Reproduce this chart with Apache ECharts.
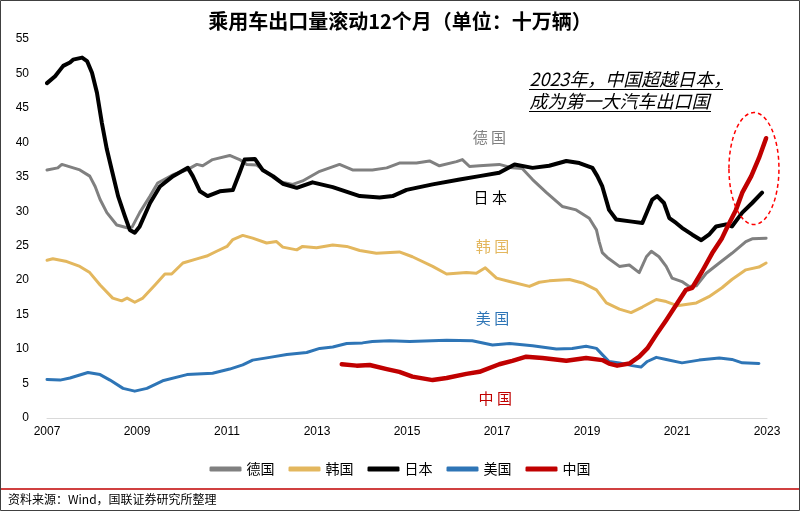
<!DOCTYPE html>
<html><head><meta charset="utf-8">
<script src="https://cdn.jsdelivr.net/npm/echarts@6/dist/echarts.min.js"></script>
<style>html,body{margin:0;padding:0;background:#fff}#c{width:800px;height:511px}</style>
</head><body><div id="c"></div>
<script>
// ---- data (decimal years, 十万辆) ----
const baseYear = 2007;
const yearTicks = [2007, 2009, 2011, 2013, 2015, 2017, 2019, 2021, 2023];

const deX = [2007.00,2007.24,2007.33,2007.73,2007.95,2008.07,2008.18,2008.33,2008.55,2008.78,2008.89,2009.06,2009.29,2009.46,2009.80,2010.11,2010.33,2010.46,2010.68,2011.06,2011.28,2011.44,2011.66,2011.88,2012.17,2012.46,2012.68,2013.06,2013.50,2013.79,2014.23,2014.55,2014.83,2015.21,2015.50,2015.72,2016.10,2016.23,2016.39,2016.61,2017.05,2017.34,2017.56,2017.79,2018.10,2018.45,2018.76,2019.05,2019.21,2019.27,2019.34,2019.45,2019.72,2019.94,2020.16,2020.32,2020.43,2020.60,2020.76,2020.89,2021.11,2021.27,2021.43,2021.65,2021.94,2022.22,2022.53,2022.67,2022.98];
const deY = [36.0,36.3,36.8,36.0,35.1,33.6,31.7,29.8,28.0,27.6,27.7,29.8,32.2,34.1,35.3,36.0,36.8,36.6,37.5,38.1,37.5,36.8,36.7,35.6,34.3,33.9,34.4,35.8,36.8,36.0,36.0,36.3,37.0,37.0,37.3,36.6,37.2,37.5,36.5,36.6,36.8,36.3,36.2,34.6,32.7,30.7,30.2,29.0,27.3,25.6,24.0,23.3,22.0,22.2,21.1,23.4,24.2,23.4,22.0,20.3,19.8,19.1,19.2,21.0,22.5,23.9,25.6,26.0,26.1];

const krX = [2007.00,2007.13,2007.44,2007.73,2007.95,2008.18,2008.46,2008.66,2008.78,2008.95,2009.13,2009.40,2009.62,2009.77,2010.02,2010.33,2010.55,2010.77,2011.00,2011.13,2011.35,2011.57,2011.88,2012.10,2012.24,2012.55,2012.68,2012.99,2013.35,2013.66,2013.95,2014.32,2014.83,2015.12,2015.57,2015.88,2016.32,2016.54,2016.74,2016.99,2017.28,2017.72,2017.94,2018.16,2018.61,2018.90,2019.21,2019.43,2019.72,2019.98,2020.23,2020.54,2020.76,2021.00,2021.43,2021.71,2022.00,2022.22,2022.53,2022.82,2022.98];
const krY = [22.9,23.1,22.7,22.0,21.1,19.3,17.4,17.0,17.4,16.8,17.4,19.3,20.9,20.9,22.5,23.1,23.5,24.2,24.9,25.9,26.5,26.1,25.4,25.6,24.8,24.4,24.9,24.7,25.1,24.9,24.3,23.9,24.1,23.4,22.0,20.9,21.1,21.0,21.8,20.3,19.8,19.1,19.7,19.9,20.1,19.6,18.6,16.7,15.8,15.3,16.1,17.2,16.9,16.3,16.7,17.6,18.9,20.1,21.5,21.9,22.5];

const jpX = [2007.00,2007.18,2007.36,2007.51,2007.58,2007.78,2007.89,2008.00,2008.11,2008.22,2008.33,2008.44,2008.58,2008.73,2008.84,2008.95,2009.06,2009.29,2009.51,2009.80,2010.13,2010.24,2010.40,2010.57,2010.84,2011.13,2011.28,2011.39,2011.62,2011.79,2012.02,2012.24,2012.55,2012.90,2013.35,2013.95,2014.39,2014.68,2014.99,2015.57,2016.17,2016.61,2017.05,2017.39,2017.79,2018.16,2018.54,2018.83,2019.12,2019.23,2019.34,2019.49,2019.65,2020.00,2020.23,2020.45,2020.56,2020.71,2020.83,2020.98,2021.11,2021.34,2021.54,2021.71,2021.87,2022.09,2022.22,2022.45,2022.67,2022.89];
const jpY = [48.6,49.6,51.1,51.6,52.0,52.3,51.8,50.1,47.2,42.8,39.0,36.0,32.2,29.3,27.3,26.9,27.8,31.2,33.6,35.1,36.3,35.1,32.9,32.2,32.9,33.1,35.6,37.5,37.6,36.0,35.1,34.0,33.4,34.2,33.5,32.2,32.0,32.2,33.1,33.9,34.6,35.1,35.6,36.8,36.3,36.6,37.3,37.0,36.3,35.1,33.6,30.2,28.8,28.5,28.3,31.7,32.2,31.2,29.0,28.3,27.6,26.6,25.8,26.6,27.8,28.1,27.8,29.8,31.2,32.7];

const usX = [2007.00,2007.29,2007.51,2007.91,2008.18,2008.40,2008.69,2008.95,2009.22,2009.57,2010.11,2010.68,2011.06,2011.35,2011.57,2011.95,2012.33,2012.77,2013.06,2013.35,2013.66,2014.01,2014.23,2014.61,2015.06,2015.88,2016.45,2016.90,2017.28,2017.79,2018.32,2018.67,2018.98,2019.21,2019.34,2019.49,2019.72,2020.00,2020.20,2020.34,2020.54,2020.76,2021.11,2021.49,2021.94,2022.22,2022.45,2022.82];
const usY = [5.6,5.5,5.8,6.6,6.3,5.5,4.3,3.9,4.3,5.4,6.3,6.5,7.1,7.7,8.4,8.8,9.2,9.5,10.1,10.3,10.8,10.9,11.1,11.2,11.1,11.3,11.2,10.6,10.8,10.5,10.0,10.1,10.4,10.1,9.2,8.2,8.0,7.6,7.4,8.2,8.8,8.5,8.0,8.4,8.7,8.5,8.0,7.9];

const cnX = [2013.55,2013.88,2014.17,2014.55,2014.83,2015.12,2015.57,2015.88,2016.32,2016.61,2017.05,2017.34,2017.65,2018.01,2018.54,2018.98,2019.34,2019.49,2019.67,2019.94,2020.16,2020.34,2020.54,2020.76,2020.98,2021.20,2021.34,2021.56,2021.78,2022.00,2022.11,2022.31,2022.45,2022.65,2022.82,2022.98];
const cnY = [7.8,7.6,7.7,7.1,6.7,6.0,5.5,5.8,6.4,6.7,7.8,8.3,8.9,8.7,8.3,8.7,8.4,7.9,7.6,7.9,8.9,10.1,12.1,14.2,16.4,18.6,18.9,21.3,23.9,26.1,27.6,30.2,32.7,35.1,37.7,40.6];

const seriesNames = ['德国', '韩国', '日本', '美国', '中国'];
const seriesColors = ['#808080', '#E3B75E', '#000000', '#2E75B6', '#C00000'];
const seriesWidths = [3, 3, 4, 3, 4.5];
const seriesXs = [deX, krX, jpX, usX, cnX];
const seriesYs = [deY, krY, jpY, usY, cnY];

const titleText = '乘用车出口量滚动12个月（单位：十万辆）';
const noteLines = ['2023年，中国超越日本，', '成为第一大汽车出口国'];
const sourceText = '资料来源：Wind，国联证券研究所整理';

// ---- chart ----
const chart = echarts.init(document.getElementById('c'), null, {renderer: 'canvas'});
const CJK = '"Noto Sans CJK SC", sans-serif';
const NUM = '"Liberation Sans", Arial, sans-serif';

const series = seriesNames.map((n, i) => ({
  name: n,
  type: 'line',
  showSymbol: false,
  symbol: 'none',
  smooth: false,
  z: 2 + i,
  color: seriesColors[i],
  lineStyle: {width: seriesWidths[i], color: seriesColors[i], cap: 'round', join: 'round'},
  data: seriesXs[i].map((x, k) => [x - baseYear, seriesYs[i][k]])
}));

chart.setOption({
  animation: false,
  backgroundColor: '#fff',
  title: {
    text: titleText, left: 'center', top: 6,
    textStyle: {fontSize: 20, fontWeight: 'bold', fontFamily: CJK, color: '#000'}
  },
  legend: {
    data: seriesNames.map(n => ({name: n, icon: 'roundRect'})),
    left: 'center', top: 457,
    itemWidth: 32, itemHeight: 5, itemGap: 14,
    textStyle: {fontSize: 14, fontFamily: CJK, color: '#000'}
  },
  grid: {left: 47, right: 33, top: 39, bottom: 93, containLabel: false},
  xAxis: {
    type: 'value', min: yearTicks[0] - baseYear, max: yearTicks[yearTicks.length - 1] - baseYear, interval: 2,
    axisLine: {show: true, lineStyle: {color: '#d9d9d9', width: 1}},
    axisTick: {show: false}, splitLine: {show: false},
    axisLabel: {fontSize: 12, color: '#000', fontFamily: NUM, margin: 8, formatter: v => String(v + baseYear)}
  },
  yAxis: {
    type: 'value', min: 0, max: 55, interval: 5,
    axisLine: {show: false}, axisTick: {show: false}, splitLine: {show: false},
    axisLabel: {fontSize: 12, color: '#000', fontFamily: NUM, margin: 18}
  },
  series: series
});

// ---- annotations anchored to data coords ----
function px(year, val) { return chart.convertToPixel({gridIndex: 0}, [year - baseYear, val]); }
const labelSpots = [
  ['德国', 2016.83, 40.7, '#808080'],
  ['日本', 2016.85, 32.0, '#000000'],
  ['韩国', 2016.90, 24.9, '#E3B75E'],
  ['美国', 2016.90, 14.5, '#2E75B6'],
  ['中国', 2016.96, 2.9, '#C00000']
];
const graphics = [];
labelSpots.forEach(([t, yr, v, c]) => {
  const p = px(yr, v);
  graphics.push({type: 'text', x: p[0], y: p[1], z: 20,
    style: {text: t.split('').join(' '), fill: c, font: '15px ' + CJK, textAlign: 'center', textVerticalAlign: 'middle'}});
});
// ellipse highlighting China's surge
const ec = px(2022.71, 36.2);
graphics.push({type: 'ellipse', z: 20, shape: {cx: ec[0], cy: ec[1], rx: 25, ry: 56},
  style: {fill: 'none', stroke: '#FF0000', lineWidth: 1.5, lineDash: [4, 3]}});
// note text with underline (drawn as rects so they are always visible)
const n1 = px(2017.72, 49.2), n2 = px(2017.72, 46.0);
[[noteLines[0], n1, 194], [noteLines[1], n2, 182]].forEach(([t, p, w]) => {
  graphics.push({type: 'text', x: p[0], y: p[1], z: 20,
    style: {text: t, fill: '#000', font: 'italic 18px ' + CJK, textAlign: 'left', textVerticalAlign: 'middle'}});
  graphics.push({type: 'rect', z: 21, shape: {x: Math.round(p[0]), y: Math.round(p[1]) + 10, width: w, height: 1},
    style: {fill: '#000'}});
});
// footer separator, source and frame
graphics.push({type: 'line', z: 20, shape: {x1: 0, y1: 489, x2: 800, y2: 489}, style: {stroke: '#C00000', lineWidth: 1.5}});
graphics.push({type: 'text', x: 8, y: 499, z: 20,
  style: {text: sourceText, fill: '#000', font: '12px ' + CJK, textVerticalAlign: 'middle'}});
graphics.push({type: 'rect', z: 30, shape: {x: 0.5, y: 0.5, width: 799, height: 510},
  style: {fill: 'none', stroke: '#404040', lineWidth: 1}});
chart.setOption({graphic: graphics});
</script>
</body></html>
